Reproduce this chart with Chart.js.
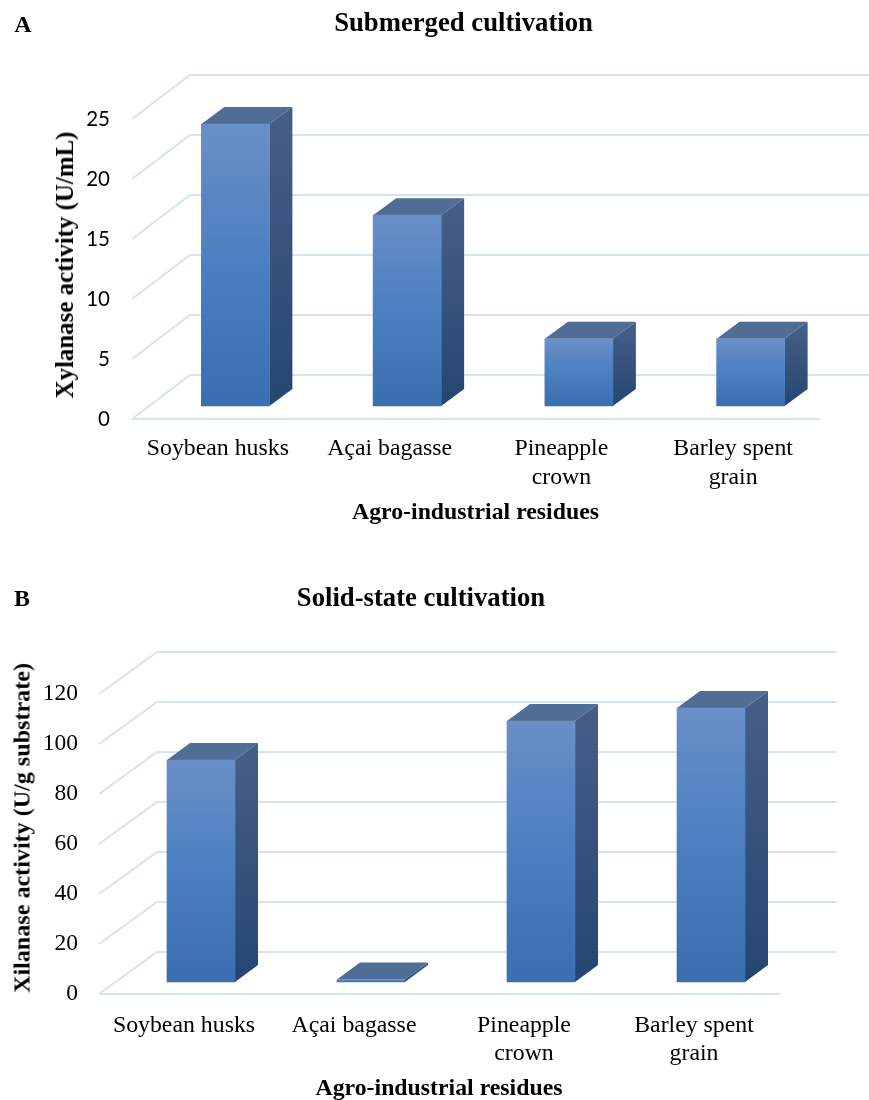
<!DOCTYPE html>
<html>
<head>
<meta charset="utf-8">
<script src="https://cdn.jsdelivr.net/npm/chart.js@4"></script>
<style>
  html, body { margin: 0; background: #fff; overflow: hidden; }
  #page { position: relative; width: 869px; height: 1100px; overflow: hidden; font-family: "Liberation Serif", serif; color: #000; }
  canvas { position: absolute; left: 0; }
  .txt { position: absolute; font-weight: bold; white-space: nowrap; transform: translate(-50%, -50%); }
  .ytitle { transform: translate(-50%, -50%) rotate(-90deg); }
</style>
</head>
<body>
<div id="page">
  <canvas id="chartA" width="869" height="527" style="top:0"></canvas>
  <canvas id="chartB" width="869" height="525" style="top:575px"></canvas>

  <div class="txt" style="left:23px;top:24px;font-size:24px">A</div>
  <div class="txt" style="left:463.5px;top:22px;font-size:26.7px">Submerged cultivation</div>
  <div class="txt ytitle" style="left:65px;top:265px;font-size:24.9px">Xylanase activity (U/mL)</div>

  <div class="txt" style="left:22px;top:598px;font-size:24px">B</div>
  <div class="txt" style="left:421px;top:597px;font-size:26.7px">Solid-state cultivation</div>
  <div class="txt ytitle" style="left:22px;top:828px;font-size:24.1px">Xilanase activity (U/g substrate)</div>
</div>

<script>
const categories = ['Soybean husks', 'Açai bagasse', ['Pineapple', 'crown'], ['Barley spent', 'grain']]

const valuesA = [23.5, 15.9, 5.6, 5.6]
const valuesB = [88.8, 1, 104.4, 109.6]

const maxA = 25
const stepA = 5
const maxB = 120
const stepB = 20

const xTitle = 'Agro-industrial residues'

// fake 3D: back wall grid plus the top and side faces of the bars
const fake3d = {
  id: 'fake3d',
  beforeDatasetsDraw(chart, args, opts) {
    const { ctx, chartArea, scales } = chart
    const { left, right } = chartArea

    ctx.save()
    ctx.strokeStyle = '#d7e3f3'
    ctx.lineWidth = 2
    scales.y.ticks.forEach(t => {
      const y = scales.y.getPixelForValue(t.value)
      ctx.beginPath()
      ctx.moveTo(left, y)
      ctx.lineTo(left + opts.wallX, y - opts.wallY)
      ctx.lineTo(right + opts.wallX, y - opts.wallY)
      ctx.stroke()
    })
    // floor front edge
    const y0 = scales.y.getPixelForValue(0)
    ctx.beginPath()
    ctx.moveTo(left, y0)
    ctx.lineTo(right + 1, y0)
    ctx.stroke()
    ctx.restore()

    // bars sit a little inside the floor, shift everything drawn from here on
    ctx.save()
    ctx.translate(opts.barX, -opts.barY)

    chart.getDatasetMeta(0).data.forEach(bar => {
      const l = bar.x - bar.width / 2
      const r = bar.x + bar.width / 2
      const d = opts.depthX
      const e = opts.depthY

      ctx.fillStyle = '#506d96'
      ctx.beginPath()
      ctx.moveTo(l, bar.y)
      ctx.lineTo(l + d, bar.y - e)
      ctx.lineTo(r + d, bar.y - e)
      ctx.lineTo(r, bar.y)
      ctx.closePath()
      ctx.fill()

      const side = ctx.createLinearGradient(0, bar.y - e, 0, bar.base)
      side.addColorStop(0, '#475f88')
      side.addColorStop(1, '#254672')
      ctx.fillStyle = side
      ctx.beginPath()
      ctx.moveTo(r, bar.y)
      ctx.lineTo(r + d, bar.y - e)
      ctx.lineTo(r + d, bar.base - e)
      ctx.lineTo(r, bar.base)
      ctx.closePath()
      ctx.fill()
    })
  },
  afterDatasetsDraw(chart) {
    chart.ctx.restore()
  }
}

function frontFill(context) {
  const chart = context.chart
  if (!chart.chartArea || context.raw === undefined) return '#4a7fc0'
  const top = chart.scales.y.getPixelForValue(context.raw)
  const bottom = chart.scales.y.getPixelForValue(0)
  const g = chart.ctx.createLinearGradient(0, top, 0, bottom)
  g.addColorStop(0, '#6a8fc7')
  g.addColorStop(0.5, '#4a7fc1')
  g.addColorStop(1, '#3a6eb0')
  return g
}

function makeChart(id, values, max, step, cfg) {
  return new Chart(document.getElementById(id), {
    type: 'bar',
    data: {
      labels: categories,
      datasets: [{
        data: values,
        backgroundColor: frontFill,
        borderWidth: 0,
        barThickness: 68,
        clip: false
      }]
    },
    plugins: [fake3d],
    options: {
      responsive: false,
      animation: false,
      layout: {
        autoPadding: false,
        padding: { left: 0, right: cfg.paddingRight, top: 119, bottom: 0 }
      },
      plugins: {
        legend: { display: false },
        tooltip: { enabled: false },
        fake3d: cfg.depth
      },
      scales: {
        x: {
          afterFit: s => { s.height = cfg.xHeight },
          grid: { display: false, drawTicks: false },
          border: { display: false },
          ticks: {
            color: '#000',
            padding: cfg.xPad,
            maxRotation: 0,
            autoSkip: false,
            font: { family: 'Liberation Serif', size: 23.8, lineHeight: cfg.xLine }
          },
          title: {
            display: true,
            text: xTitle,
            color: '#000',
            padding: { top: 0, bottom: cfg.xTitleBottom },
            font: { family: 'Liberation Serif', size: 23.8, weight: 'bold' }
          }
        },
        y: {
          min: 0,
          max: max,
          afterFit: s => { s.width = cfg.yWidth },
          grid: { display: false, drawTicks: false },
          border: { display: false },
          ticks: {
            stepSize: step,
            color: '#000',
            padding: cfg.tickPad,
            font: cfg.tickFont
          }
        }
      }
    }
  })
}

makeChart('chartA', valuesA, maxA, stepA, {
  yWidth: 132,
  xHeight: 108,
  paddingRight: 50,
  tickPad: 22,
  xPad: 15,
  xLine: 1.22,
  xTitleBottom: 0,
  tickFont: { family: 'Lato', size: 20.5 },
  depth: { wallX: 58, wallY: 44, barX: 17.5, barY: 13, depthX: 23, depthY: 17 }
})

makeChart('chartB', valuesB, maxB, stepB, {
  yWidth: 99,
  xHeight: 106,
  paddingRight: 90,
  tickPad: 21,
  xPad: 18,
  xLine: 1.18,
  xTitleBottom: -3,
  tickFont: { family: 'Liberation Serif', size: 23.5 },
  depth: { wallX: 58, wallY: 42, barX: 17, barY: 12, depthX: 23, depthY: 17 }
})
</script>
</body>
</html>
